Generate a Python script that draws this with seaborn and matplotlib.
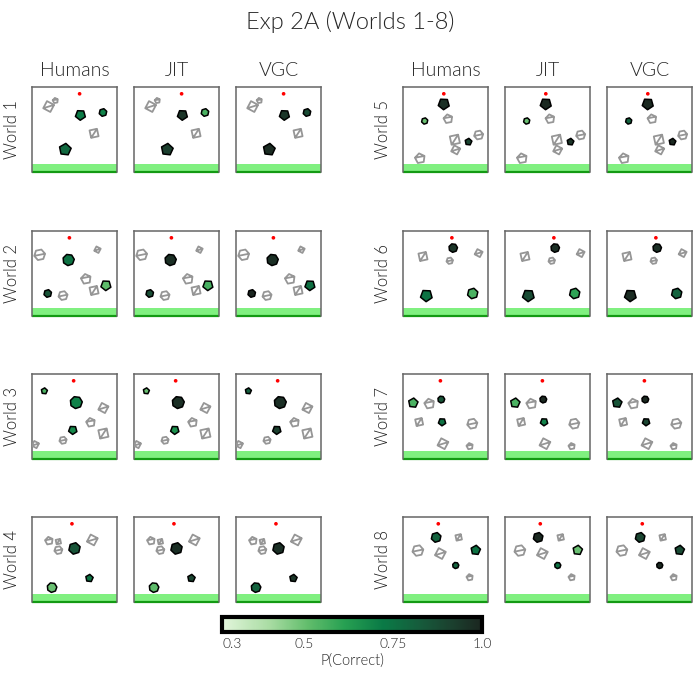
import numpy as np
import pandas as pd
import matplotlib
matplotlib.use("Agg")
import matplotlib.pyplot as plt
import seaborn as sns
from matplotlib.path import Path
from matplotlib.colors import LinearSegmentedColormap, Normalize
from matplotlib.patches import Rectangle
import matplotlib as mpl

# ---------------- data ----------------
worlds = [1, 2, 3, 4, 5, 6, 7, 8]
models = ["Humans", "JIT", "VGC"]
target_x = [0.56, 0.44, 0.49, 0.47, 0.48, 0.575, 0.44, 0.415]

# grey (non-target) obstacles
gray_world = [1, 1, 1,
              2, 2, 2, 2, 2,
              3, 3, 3, 3, 3,
              4, 4, 4, 4,
              5, 5, 5, 5, 5,
              6, 6, 6,
              7, 7, 7, 7, 7,
              8, 8, 8, 8]
gray_x = [0.196, 0.275, 0.73,
          0.09, 0.77, 0.635, 0.73, 0.365,
          0.84, 0.69, 0.84, 0.365, 0.04,
          0.20, 0.31, 0.31, 0.71,
          0.53, 0.61, 0.89, 0.62, 0.20,
          0.235, 0.55, 0.89,
          0.31, 0.19, 0.815, 0.47, 0.785,
          0.655, 0.175, 0.44, 0.785]
gray_y = [0.23, 0.16, 0.545,
          0.28, 0.22, 0.565, 0.70, 0.76,
          0.40, 0.57, 0.70, 0.78, 0.83,
          0.28, 0.29, 0.39, 0.27,
          0.375, 0.62, 0.565, 0.74, 0.84,
          0.30, 0.35, 0.26,
          0.35, 0.565, 0.585, 0.82, 0.85,
          0.24, 0.395, 0.43, 0.71]
gray_d = [30, 15, 25,
          30, 18, 28, 25, 25,
          28, 25, 28, 20, 20,
          22, 15, 22, 30,
          25, 28, 25, 25, 28,
          25, 18, 22,
          28, 22, 28, 30, 18,
          18, 30, 30, 18]

# coloured (candidate) obstacles with P(correct) per model
col_world = [1, 1, 1, 2, 2, 2, 3, 3, 3, 4, 4, 4,
             5, 5, 5, 6, 6, 6, 7, 7, 7, 8, 8, 8]
col_x = [0.57, 0.835, 0.39, 0.43, 0.87, 0.185, 0.145, 0.52, 0.48, 0.50, 0.675, 0.235,
         0.48, 0.255, 0.77, 0.59, 0.275, 0.82, 0.12, 0.45, 0.46, 0.39, 0.855, 0.62]
col_y = [0.33, 0.30, 0.735, 0.34, 0.64, 0.735, 0.20, 0.335, 0.66, 0.37, 0.72, 0.83,
         0.20, 0.40, 0.645, 0.20, 0.76, 0.735, 0.34, 0.30, 0.565, 0.24, 0.39, 0.57]
col_d = [30, 22, 35, 33, 30, 22, 18, 35, 25, 33, 22, 28,
         33, 18, 20, 25, 35, 30, 28, 20, 22, 28, 28, 18]
p_humans = [0.72, 0.70, 0.78, 0.75, 0.52, 0.85, 0.55, 0.70, 0.68, 0.85, 0.75, 0.50,
            0.97, 0.50, 0.90, 0.95, 0.75, 0.55, 0.55, 0.85, 0.75, 0.80, 0.75, 0.80]
p_jit = [0.95, 0.55, 0.92, 0.97, 0.56, 0.87, 0.50, 0.97, 0.66, 0.97, 0.90, 0.52,
         0.99, 0.50, 0.95, 0.97, 0.88, 0.60, 0.55, 0.99, 0.70, 0.99, 0.50, 0.75]
p_vgc = [0.95, 0.88, 0.98, 0.97, 0.76, 1.00, 0.82, 0.97, 0.92, 0.97, 0.95, 0.80,
         0.99, 0.80, 0.99, 0.97, 0.98, 0.80, 0.85, 0.99, 0.90, 0.90, 0.88, 0.99]

cbar_ticks = [0.3, 0.5, 0.75, 1.0]
cbar_ticklabels = ["0.3", "0.5", "0.75", "1.0"]

# ---------------- tables ----------------
gray_df = pd.DataFrame({"world": gray_world, "x": gray_x, "y": gray_y, "d": gray_d})
gray_df["s"] = (gray_df["d"] * 0.26) ** 2
gray_df["shape"] = [f"g{i % 4}" for i in range(len(gray_df))]

col_df = pd.DataFrame({"world": col_world, "x": col_x, "y": col_y, "d": col_d,
                       "Humans": p_humans, "JIT": p_jit, "VGC": p_vgc})
col_df["s"] = (col_df["d"] * 0.25) ** 2
col_df["shape"] = [f"c{i % 4}" for i in range(len(col_df))]
col_long = col_df.melt(id_vars=["world", "x", "y", "s", "shape"], value_vars=models,
                       var_name="model", value_name="p")

target_df = pd.DataFrame({"world": worlds, "x": target_x, "y": [0.08] * len(worlds)})


def poly_path(n, rot, chord=True):
    ang = rot + 2 * np.pi * np.arange(n) / n
    v = np.c_[np.cos(ang), np.sin(ang)]
    verts = list(v) + [v[0]]
    codes = [Path.MOVETO] + [Path.LINETO] * (n - 1) + [Path.CLOSEPOLY]
    if chord:
        verts += [v[0], v[n // 2]]
        codes += [Path.MOVETO, Path.LINETO]
    return Path(verts, codes)


gray_markers = {"g0": poly_path(4, 0.3), "g1": poly_path(5, 0.5),
                "g2": poly_path(4, 1.0), "g3": poly_path(6, 0.2)}
col_markers = {"c0": poly_path(5, 0.9, False), "c1": poly_path(6, 0.3, False),
               "c2": poly_path(5, 0.2, False), "c3": poly_path(7, 0.1, False)}

cmap = LinearSegmentedColormap.from_list(
    "pc",
    [(0.0, "#e3f6dc"), (0.18, "#a9dca3"), (0.33, "#62bd6c"), (0.47, "#27a052"),
     (0.62, "#0a7a46"), (0.76, "#165c3c"), (0.88, "#1b412f"), (1.0, "#1b2620")])
norm = Normalize(0.27, 1.0)

# ---------------- figure ----------------
sns.set_theme(style="white")
plt.rcParams["font.family"] = ["Lato", "DejaVu Sans"]
plt.rcParams["font.weight"] = 300

W, H = 700, 677
fig = plt.figure(figsize=(W / 100, H / 100), dpi=100)

col_left = {0: [32, 134, 236], 1: [403, 505, 607]}
row_top = [87, 231, 374, 517]
PW = PH = 85

for wi, w in enumerate(worlds):
    grp = wi // 4
    r = wi % 4
    for mi, m in enumerate(models):
        x0 = col_left[grp][mi]
        ax = fig.add_axes([x0 / W, 1 - (row_top[r] + PH) / H, PW / W, PH / H])
        ax.set_xlim(0, 1)
        ax.set_ylim(1, 0)
        g = gray_df[gray_df.world == w]
        sns.scatterplot(data=g, x="x", y="y", size="s", sizes=(0, 200), size_norm=(0, 200),
                        style="shape", markers=gray_markers, color="white",
                        edgecolor="#969696", linewidth=1.3, legend=False, ax=ax, zorder=3)
        c = col_long[(col_long.world == w) & (col_long.model == m)]
        sns.scatterplot(data=c, x="x", y="y", hue="p", palette=cmap, hue_norm=norm,
                        size="s", sizes=(0, 200), size_norm=(0, 200),
                        style="shape", markers=col_markers,
                        edgecolor="black", linewidth=1.1, legend=False, ax=ax, zorder=4)
        t = target_df[target_df.world == w]
        sns.scatterplot(data=t, x="x", y="y", color="red", s=7, edgecolor="none",
                        legend=False, ax=ax, zorder=5)
        ax.add_patch(Rectangle((0, 0.905), 1, 0.095, facecolor="#80f080",
                               edgecolor="none", zorder=2, clip_on=False))
        ax.plot([0, 1], [0.995, 0.995], color="#139a13", lw=1.6, zorder=2.5,
                solid_capstyle="butt", clip_on=False)
        ax.set(xlabel="", ylabel="", xticks=[], yticks=[])
        for sp in ax.spines.values():
            sp.set_color("#666666")
            sp.set_linewidth(1.1)
        ax.spines["bottom"].set_visible(False)
        if r == 0:
            fig.text((x0 + PW / 2) / W, 1 - 70 / H, m, ha="center", va="center",
                     fontsize=14, fontweight=300)
        if mi == 0:
            fig.text((x0 - 20) / W, 1 - (row_top[r] + PH / 2) / H, f"World {w}",
                     rotation=90, ha="center", va="center", fontsize=12, fontweight=300)

fig.text(0.5, 1 - 22 / H, "Exp 2A (Worlds 1-8)", ha="center", va="center",
         fontsize=17, fontweight=300)

cax = fig.add_axes([222 / W, 1 - 632 / H, 260 / W, 15 / H])
cb = mpl.colorbar.ColorbarBase(cax, cmap=cmap, norm=norm, orientation="horizontal",
                               ticks=cbar_ticks)
cb.set_ticklabels(cbar_ticklabels)
cb.outline.set_linewidth(3)
cb.outline.set_edgecolor("black")
cax.tick_params(length=0, labelsize=10, pad=4)
cb.set_label("P(Correct)", fontsize=10.5, labelpad=3, fontweight=300)

fig.savefig("out.png", dpi=100)
